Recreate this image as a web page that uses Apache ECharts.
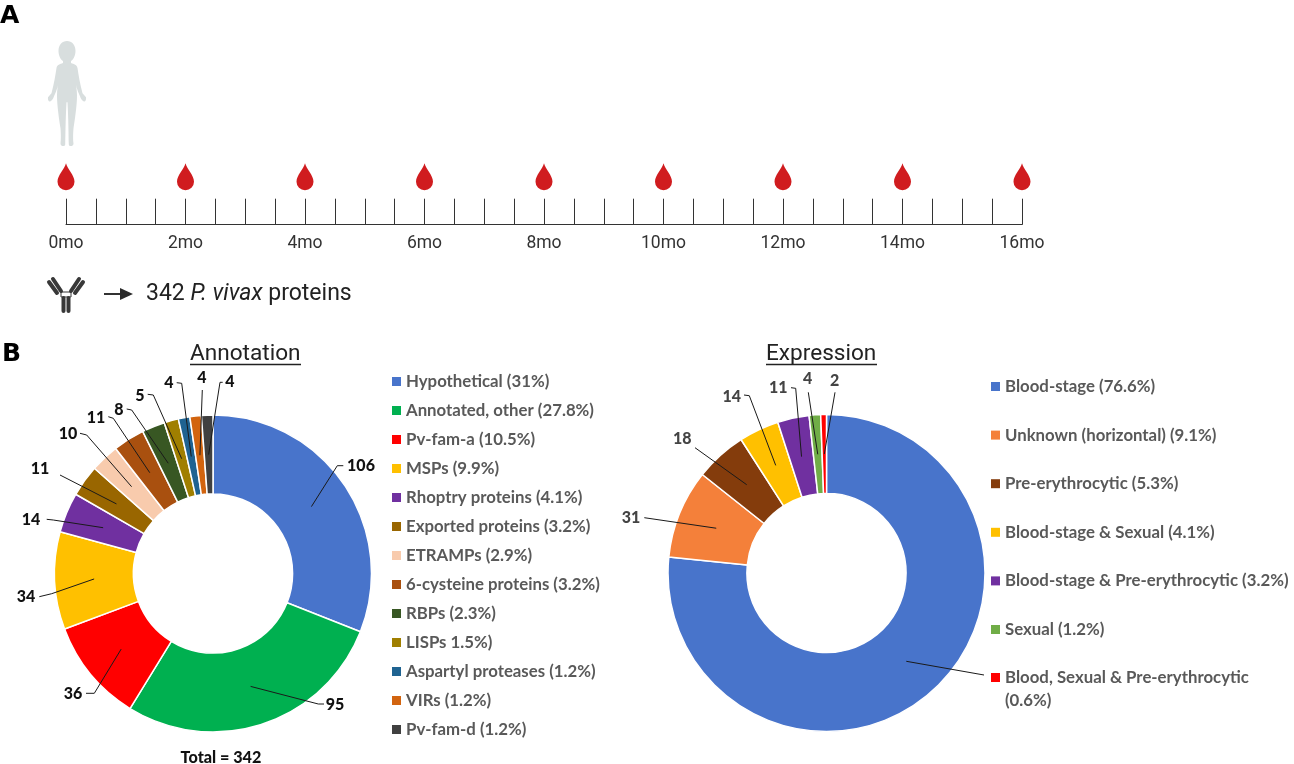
<!DOCTYPE html>
<html><head><meta charset="utf-8">
<style>html,body{margin:0;padding:0;background:#fff}#c{width:1294px;height:764px}</style>
<script src="https://cdn.jsdelivr.net/npm/echarts@6/dist/echarts.min.js"></script>
</head><body><div id="c"></div>
<script>
// ---- data ----
const timelineMonths = [0,2,4,6,8,10,12,14,16];
const annotationNames = ['Hypothetical (31%)','Annotated, other (27.8%)','Pv-fam-a (10.5%)','MSPs (9.9%)','Rhoptry proteins (4.1%)','Exported proteins (3.2%)','ETRAMPs (2.9%)','6-cysteine proteins (3.2%)','RBPs (2.3%)','LISPs 1.5%)','Aspartyl proteases (1.2%)','VIRs (1.2%)','Pv-fam-d (1.2%)'];
const annotationValues = [106,95,36,34,14,11,10,11,8,5,4,4,4];
const annotationColors = ['#4874CB','#00B050','#FF0000','#FFC000','#7030A0','#996600','#F8CBAD','#A9500F','#385723','#A07F00','#1F6391','#D2640F','#404040'];
const expressionNames = ['Blood-stage (76.6%)','Unknown (horizontal) (9.1%)','Pre-erythrocytic (5.3%)','Blood-stage & Sexual (4.1%)','Blood-stage & Pre-erythrocytic (3.2%)','Sexual (1.2%)','Blood, Sexual & Pre-erythrocytic (0.6%)'];
const expressionValues = [262,31,18,14,11,4,2];
const expressionColors = ['#4874CB','#F4803A','#843C0C','#FFC000','#7030A0','#70AD47','#FF0000'];

// ---- layout (pixels) ----
const annC = [213,573.5], expC = [826.5,573], R0 = 79.6, R1 = 158.5, anchorR = 119;
const annLabelPos = [[361,466],[335,705],[73,694],[26,597],[31,520],[40,469],[68,434],[96,418],[119,410],[140,396],[169,383],[202,378],[230,382]];
const annLeader = [[[337.3,465.7],[343.3,465.7]],[[318.3,704],[324,704]],[[94.3,693.3],[86,693.3]],[[51.7,593.7],[39.3,596.7]],[[53.3,520],[46.7,519.3]],[[60,475]],[[86.7,435],[80,433.3]],[[113.3,418.3],[108.3,416.7]],[[131.7,410],[126.7,409]],[[153.3,395],[147.7,394.3]],[[181.7,383.3],[176.7,382.7]],[[202.3,390]],[[220,382.3],[222.7,382.3]]];
const expLabelPos = [null,[631,518],[682.3,439.3],[731.7,396.7],[778.3,388.3],[807.7,379],[834.7,380.7]];
const expLeader = [[[984,675]],[[644.3,517.7]],[[695,447.7]],[[749.3,395.7],[744,395]],[[795.7,388.3],[791,387.7]],[[808.3,392.3]],[[835,392.3]]];

function midPoint(values,i,c){
  const total = values.reduce((a,b)=>a+b,0);
  const before = values.slice(0,i).reduce((a,b)=>a+b,0);
  const a = (before+values[i]/2)/total*2*Math.PI;
  return [c[0]+anchorR*Math.sin(a), c[1]-anchorR*Math.cos(a)];
}
function leaders(values,layout,c){
  return values.map((v,i)=>({type:'polyline',silent:true,z:50,
    shape:{points:[midPoint(values,i,c)].concat(layout[i])},
    style:{stroke:'#1a1a1a',lineWidth:1,fill:null}}));
}
function pie(names,values,colors,c,labelPos,labelColor){
  return {type:'pie',center:c,radius:[R0,R1],startAngle:90,clockwise:true,silent:true,
    avoidLabelOverlap:false,animation:false,
    itemStyle:{borderColor:'#fff',borderWidth:1.5},
    labelLine:{show:false},
    label:{show:true,position:'outside',formatter:'{c}',fontFamily:'Lato',fontWeight:900,fontSize:16,color:labelColor},
    labelLayout:p=>{const q=labelPos[p.dataIndex];return q?{x:q[0],y:q[1],align:'center',verticalAlign:'middle'}:{};},
    data:names.map((n,i)=>({name:n,value:values[i],itemStyle:{color:colors[i]},
      label:{show:!!labelPos[i]}}))};
}
function legend(names,left,top,gap,lineHeight,fmt){
  return {orient:'vertical',left,top,itemWidth:9,itemHeight:9,itemGap:gap,padding:0,icon:'rect',
    selectedMode:false,data:names,
    textStyle:{fontFamily:'Lato',fontWeight:'bold',fontSize:16.8,color:'#595959',lineHeight},
    itemStyle:{borderWidth:0},formatter:fmt||(n=>n)};
}
const silhouette='M67 41C72 41 75.5 45 75.5 51C75.5 56 73 60 71 61L71 63C74 64 77 65 77.5 68C78.5 75 80 84 82.5 93L86 97C86.5 100 85 102 83.5 101C82 100 81 99 80 96C77 90 75.5 84 75.5 79C76 85 77 90 77 95C77 105 75 118 73.5 128C73 134 73 140 73.5 143C73.5 146 69 146.5 68.8 144C68.5 135 68.5 120 67.5 102L66.5 102C65.5 120 65.5 135 65.2 144C65 146.5 60.5 146 60.5 143C61 140 61 134 60.5 128C59 118 57 105 57 95C57 90 58 85 58.5 79C58.5 84 57 90 54 96C53 99 52 100 50.5 101C49 102 47.5 100 48 97L51.5 93C54 84 55.5 75 56.5 68C57 65 60 64 63 63L63 61C61 60 58.5 56 58.5 51C58.5 45 62 41 67 41Z';
const abStroke='#383838';
function seg(p,w){return {type:'polyline',silent:true,shape:{points:p},style:{stroke:abStroke,lineWidth:w,fill:null,lineCap:'round'}};}

const option={
  backgroundColor:'#fff',animation:false,
  title:[
    {text:'Annotation',left:190,top:343,padding:0,textStyle:{fontFamily:'Roboto',fontWeight:'normal',fontSize:22.6,color:'#222'}},
    {text:'Expression',left:766,top:343,padding:0,textStyle:{fontFamily:'Roboto',fontWeight:'normal',fontSize:22.6,color:'#222'}}
  ],
  grid:{left:66,top:124.7,width:956,height:100,containLabel:false},
  xAxis:{type:'value',min:0,max:16,interval:0.5,splitLine:{show:false},
    axisLine:{lineStyle:{color:'#333',width:1}},
    axisTick:{inside:true,length:26,lineStyle:{color:'#333',width:1}},
    axisLabel:{margin:10,hideOverlap:false,showMinLabel:true,showMaxLabel:true,fontFamily:'Roboto',fontSize:17.5,color:'#333',
      formatter:v=>timelineMonths.includes(v)?v+'mo':''}},
  yAxis:{type:'value',min:0,max:1,show:false},
  legend:[
    legend(annotationNames,392,373,12,16),
    legend(expressionNames.slice(0,6),991,378,31.6,16),
    legend(expressionNames.slice(6),991,643,0,23,n=>'\n'+n.replace(' (0.6%)','\n(0.6%)'))
  ],
  series:[
    {type:'scatter',silent:true,symbol:'path://M8.5 0C10 6 17 12 17 18.5A8.5 8.5 0 0 1 0 18.5C0 12 7 6 8.5 0Z',symbolSize:[17,27],
      itemStyle:{color:'#D01C1F',opacity:1},data:timelineMonths.map(m=>[m,0.48])},
    pie(annotationNames,annotationValues,annotationColors,annC,annLabelPos,'#111'),
    pie(expressionNames,expressionValues,expressionColors,expC,expLabelPos,'#444'),
    {type:'custom',coordinateSystem:'none',silent:true,data:[[0]],
      renderItem:()=>({type:'path',shape:{pathData:silhouette,x:47.9,y:41,width:38.2,height:105,layout:'cover'},style:{fill:'#D8DEDE'}})}
  ],
  graphic:[
    {type:'text',left:0,top:4,silent:true,style:{text:'A',fontFamily:'DejaVu Sans',fontWeight:'bold',fontSize:25,fill:'#000'}},
    {type:'text',left:2,top:342,silent:true,style:{text:'B',fontFamily:'DejaVu Sans',fontWeight:'bold',fontSize:25,fill:'#000'}},
    seg([[49,282],[57,293]],4),seg([[53,279],[61,291]],4),seg([[83,282],[75,293]],4),seg([[79,279],[71,291]],4),
    seg([[63.5,298],[63.5,311]],4),seg([[68.5,298],[68.5,311]],4),
    {type:'polyline',silent:true,shape:{points:[[61,292],[71,292],[71,297],[61,297],[61,292]]},style:{stroke:abStroke,lineWidth:1,fill:null}},
    {type:'line',silent:true,shape:{x1:104,y1:294,x2:122,y2:294},style:{stroke:'#333',lineWidth:2}},
    {type:'polygon',silent:true,shape:{points:[[120,288],[133,294],[120,300]]},style:{fill:'#2a2a2a'}},
    {type:'text',x:146,y:283,silent:true,style:{fontFamily:'Roboto',fontSize:23,fill:'#222',
      text:'{n|342 }{i|P. vivax}{n| proteins}',rich:{n:{fontFamily:'Roboto',fontSize:23,fill:'#222'},i:{fontFamily:'Roboto',fontSize:23,fontStyle:'italic',fill:'#222'}}}},
    {type:'line',silent:true,shape:{x1:190,y1:364.5,x2:301,y2:364.5},style:{stroke:'#222',lineWidth:1.4}},
    {type:'line',silent:true,shape:{x1:766,y1:364.5,x2:877,y2:364.5},style:{stroke:'#222',lineWidth:1.4}},
    {type:'text',x:221,y:758,silent:true,style:{text:'Total = 342',align:'center',verticalAlign:'middle',fontFamily:'Lato',fontWeight:900,fontSize:16.2,fill:'#111'}}
  ].concat(leaders(annotationValues,annLeader,annC),leaders(expressionValues,expLeader,expC))
};
echarts.init(document.getElementById('c'),null,{renderer:'canvas'}).setOption(option);
</script></body></html>
